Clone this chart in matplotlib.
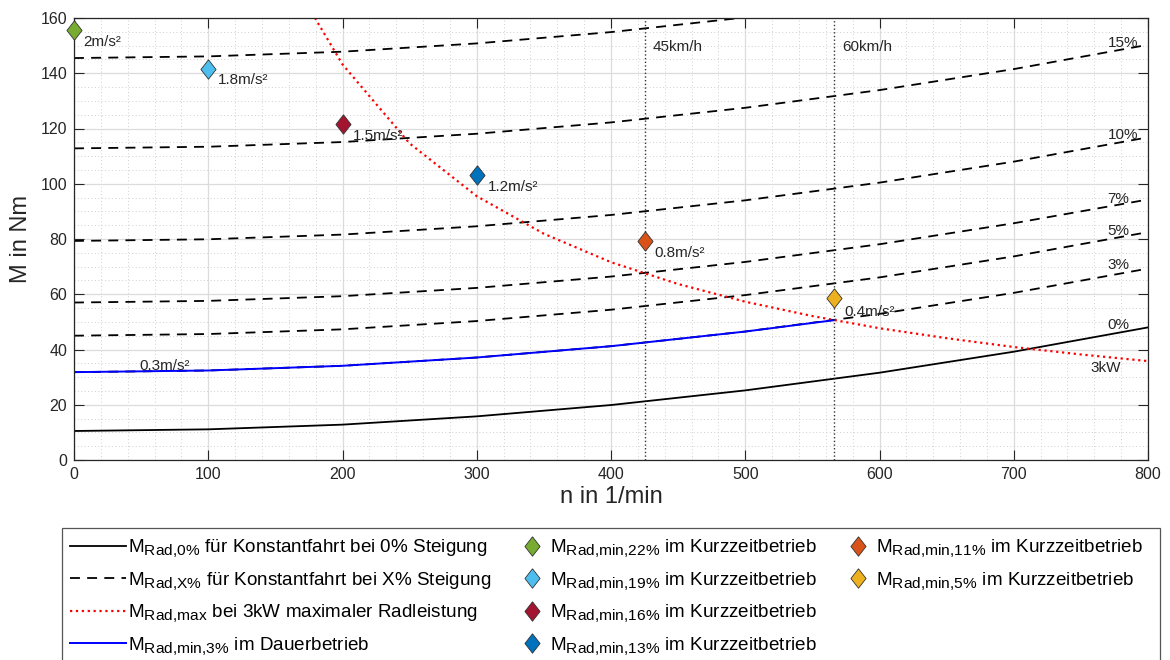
import matplotlib.pyplot as plt
import matplotlib._mathtext as mathtext_internal
from matplotlib.legend_handler import HandlerLine2D
from matplotlib.lines import Line2D
from matplotlib.patches import Rectangle
from matplotlib.ticker import MultipleLocator

plt.rcParams['font.family'] = ['Liberation Sans', 'DejaVu Sans']
plt.rcParams['mathtext.fontset'] = 'custom'
plt.rcParams['mathtext.rm'] = 'Liberation Sans'
plt.rcParams['mathtext.it'] = 'Liberation Sans:italic'
# Indizes in der Legende etwas groesser, wie in MATLAB
mathtext_internal.SHRINK_FACTOR = 0.82

# Drehzahl in 1/min
n = [0, 100, 200, 300, 400, 500, 600, 700, 800]

# Radmoment bei Konstantfahrt (Nm), je Steigung
m_0 = [10.5, 11.1, 12.8, 15.8, 19.9, 25.2, 31.6, 39.2, 48.0]
m_3 = [31.8, 32.4, 34.1, 37.1, 41.2, 46.5, 52.9, 60.5, 69.3]
m_5 = [45.0, 45.6, 47.3, 50.3, 54.4, 59.7, 66.1, 73.7, 82.5]
m_7 = [57.0, 57.6, 59.3, 62.3, 66.4, 71.7, 78.1, 85.7, 94.3]
m_10 = [79.3, 79.9, 81.6, 84.6, 88.7, 94.0, 100.4, 108.0, 116.8]
m_15 = [112.8, 113.4, 115.1, 118.1, 122.2, 127.5, 133.9, 141.5, 150.3]
m_20 = [145.5, 146.1, 147.8, 150.8, 154.9, 160.2, 166.6, 174.2, 183.0]
dashed_curves = [m_3, m_5, m_7, m_10, m_15, m_20]
grade_labels = ['3%', '5%', '7%', '10%', '15%']
grade_label_y = [70.6, 83.0, 94.5, 117.6, 151.0]

# 3kW Grenzkurve
n_max = [175, 200, 250, 300, 350, 400, 450, 500, 550, 600, 650, 700, 750, 800]
m_max = [163.7, 143.2, 114.6, 95.5, 81.9, 71.6, 63.7, 57.3, 52.1, 47.7, 44.1, 40.9, 38.2, 35.8]

# Dauerbetrieb 3%
n_cont = [0, 100, 200, 300, 400, 500, 566]
m_cont = [31.8, 32.4, 34.1, 37.1, 41.2, 46.5, 50.6]

# Kurzzeitbetrieb Punkte
pt_n = [0, 100, 200, 300, 425, 566]
pt_m = [155.8, 141.6, 121.7, 103.2, 79.1, 58.5]
pt_grade = ['22', '19', '16', '13', '11', '5']
pt_accel = ['2m/s²', '1.8m/s²', '1.5m/s²', '1.2m/s²', '0.8m/s²', '0.4m/s²']
pt_colors = ['#77AC30', '#4DBEEE', '#A2142F', '#0072BD', '#D95319', '#EDB120']

speed_n = [425, 566]
speed_labels = ['45km/h', '60km/h']

diamond = [(0, 1), (0.78, 0), (0, -1), (-0.78, 0), (0, 1)]
gray = '#262626'


class MarkerRight(HandlerLine2D):
    # Raute naeher am Text, wie in der MATLAB-Legende
    def get_xdata(self, legend, xdescent, ydescent, width, height, fontsize):
        xm = width - xdescent - 0.85 * fontsize
        return [xm, xm], [xm]


fig = plt.figure(figsize=(11.7, 6.6), dpi=100)
ax = fig.add_axes([74 / 1170, 200 / 660, 1074 / 1170, 442 / 660])

h_0, = ax.plot(n, m_0, color='black', lw=1.3)
h_x = None
for curve in dashed_curves:
    line, = ax.plot(n, curve, color='black', lw=1.3, dashes=(5.5, 4))
    if h_x is None:
        h_x = line
h_max, = ax.plot(n_max, m_max, color='red', lw=1.6, linestyle=':')
h_cont, = ax.plot(n_cont, m_cont, color='blue', lw=1.4)

for x in speed_n:
    ax.axvline(x, color='#333333', lw=1.0, linestyle=':')
for x, lab in zip(speed_n, speed_labels):
    ax.text(x + 6, 149.5, lab, fontsize=11, color=gray, va='center', ha='left')

pt_handles = []
for x, y, c in zip(pt_n, pt_m, pt_colors):
    h, = ax.plot([x], [y], linestyle='none', marker=diamond, markersize=14,
                 markerfacecolor=c, markeredgecolor='#333333', markeredgewidth=0.6,
                 clip_on=False, zorder=5)
    pt_handles.append(h)

accel_pos = [(7, 151.3), (107, 137.6), (208, 117.3), (308, 98.8), (432, 75.0), (574, 53.6)]
for (x, y), lab in zip(accel_pos, pt_accel):
    ax.text(x, y, lab, fontsize=11, color=gray, va='center', ha='left', zorder=6)
ax.text(49, 34.2, '0.3m/s²', fontsize=11, color=gray, va='center', ha='left')

for lab, y in zip(grade_labels, grade_label_y):
    ax.text(770, y, lab, fontsize=11, color=gray, va='center', ha='left')
ax.text(770, 48.9, '0%', fontsize=11, color=gray, va='center', ha='left')
ax.text(757, 33.3, '3kW', fontsize=11, color=gray, va='center', ha='left')

ax.set_xlim(0, 800)
ax.set_ylim(0, 160)
ax.xaxis.set_major_locator(MultipleLocator(100))
ax.yaxis.set_major_locator(MultipleLocator(20))
ax.xaxis.set_minor_locator(MultipleLocator(20))
ax.yaxis.set_minor_locator(MultipleLocator(5))
ax.grid(which='major', color='#dcdcdc', lw=0.9)
ax.grid(which='minor', color='#cfcfcf', lw=0.7, linestyle=(0, (1, 2.5)))
ax.set_axisbelow(True)
ax.tick_params(which='major', direction='in', length=7, top=True, right=True,
               labelsize=11.5, colors=gray, width=0.8, pad=5)
ax.tick_params(which='minor', length=0)
for s in ax.spines.values():
    s.set_color(gray)
    s.set_linewidth(0.9)
ax.set_xlabel('n in 1/min', fontsize=17, color=gray, labelpad=3)
ax.set_ylabel('M in Nm', fontsize=17, color=gray, labelpad=6)

blank = Line2D([], [], linestyle='none')
handles = [h_0, h_x, h_max, h_cont] + pt_handles + [blank, blank]
labels = [r'$\mathrm{M_{Rad{,}0\%}}$ für Konstantfahrt bei 0% Steigung',
          r'$\mathrm{M_{Rad{,}X\%}}$ für Konstantfahrt bei X% Steigung',
          r'$\mathrm{M_{Rad{,}max}}$ bei 3kW maximaler Radleistung',
          r'$\mathrm{M_{Rad{,}min{,}3\%}}$ im Dauerbetrieb']
labels += [r'$\mathrm{M_{Rad{,}min{,}%s\%%}}$ im Kurzzeitbetrieb' % g for g in pt_grade]
labels += ['', '']

leg = fig.legend(handles, labels, ncol=3, loc='upper left',
                 bbox_to_anchor=(66 / 1170, 1 - 534 / 660), borderaxespad=0,
                 fontsize=13.6, handlelength=3.0, handletextpad=0.1,
                 columnspacing=0.0, labelspacing=0.58, borderpad=0.2,
                 frameon=False, handler_map={h: MarkerRight() for h in pt_handles})

# Legendenrahmen, unten abgeschnitten wie im Original
fig.patches.append(Rectangle((62 / 1170, -0.02), 1098 / 1170, 0.02 + 132 / 660,
                             transform=fig.transFigure, fill=False,
                             edgecolor='#555555', lw=0.9))

fig.savefig('out.png', dpi=100)
